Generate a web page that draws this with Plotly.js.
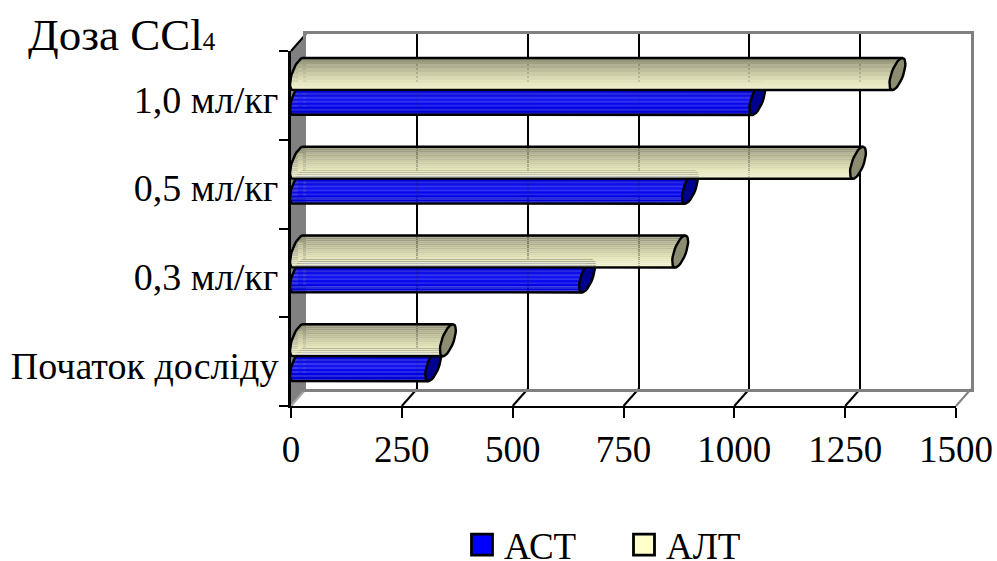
<!DOCTYPE html>
<html>
<head>
<meta charset="utf-8">
<script src="https://cdn.plot.ly/plotly-3.0.1.min.js"></script>
<style>
html,body{margin:0;padding:0;background:#fff;}
/* enlarged legend swatches with a black frame */
.legendpoints path{transform:translate(18px,0) scale(1.75);stroke:#000 !important;stroke-width:1.6px !important;}
</style>
</head>
<body>
<div id="chart" style="width:997px;height:561px;"></div>
<script>
const categories = ['Початок досліду', '0,3 мл/кг', '0,5 мл/кг', '1,0 мл/кг'];
const astValues = [305, 652, 884, 1036];
const altValues = [338, 862, 1263, 1352];
const valueTicks = [0, 250, 500, 750, 1000, 1250, 1500];
const astName = 'АСТ';
const altName = 'АЛТ';

// Oblique chart box, in page pixels
const W = 997, H = 561;
const front = {l: 291, r: 956, t: 51, b: 406};
const depth = {dx: 15, dy: 17};
const mid = {l: front.l + 7, r: front.r + 7, t: front.t - 8.5, b: front.b - 8.5};
const back = {l: front.l + depth.dx, r: front.r + depth.dx, t: front.t - depth.dy, b: front.b - depth.dy};
const kx = (front.r - front.l) / 1500;           // px per value unit
const ky = (front.b - front.t) / categories.length; // px per category
const leftPad = 30;                               // room for the rounded near end of the cylinders

const px = v => v / W;
const py = v => 1 - v / H;
const domX = b => [px(b.l), px(b.r)];
const domY = b => [py(b.b), py(b.t)];

// Cylinder cross-section
const radius = 16, skew = 5, halfW = 6.2;
const shiftAlt = 0.145, shiftAst = -0.136;
const nBands = 16;

const altStops = [[1, [140,140,114]], [0.5, [170,170,140]], [0, [200,200,165]], [-0.5, [228,228,190]], [-1, [242,242,208]]];
const astStops = [[1, [0,0,150]], [0.5, [0,0,208]], [0, [20,20,240]], [-0.5, [0,0,232]], [-1, [0,0,200]]];

function shade(stops, s) {
  for (let i = 0; i < stops.length - 1; i++) {
    const [s0, c0] = stops[i], [s1, c1] = stops[i + 1];
    if (s <= s0 && s >= s1) {
      const t = (s0 - s) / (s0 - s1);
      return c0.map((c, k) => Math.round(c + (c1[k] - c) * t));
    }
  }
  return stops[stops.length - 1][1];
}

function cylinderTraces(values, stops, capColor, shift, axisIdx, stripe) {
  const traces = [];
  const xa = 'x' + axisIdx, ya = 'y' + axisIdx;
  const yPos = categories.map((_, i) => i);
  const r = radius / ky;
  // Horizontal shading bands, following the skewed end of the cylinder
  for (let b = 0; b < nBands; b++) {
    const s0 = 1 - 2 * b / nBands, s1 = 1 - 2 * (b + 1) / nBands, s = (s0 + s1) / 2;
    const sk = skew * s;
    const hw = halfW * Math.sqrt(Math.max(0, 1 - s * s));
    let rgb = shade(stops, s);
    if (stripe && b % 2) rgb = rgb.map((c, k) => Math.min(255, c + stripe[k]));
    const alpha = (Math.abs(s) < 0.6 && b % 2) ? 0.88 : 1;
    traces.push({
      type: 'bar', orientation: 'h', xaxis: xa, yaxis: ya, showlegend: false, hoverinfo: 'skip',
      y: yPos,
      x: values.map(v => v + hw / kx),
      base: (sk - hw) / kx,
      offset: shift + s1 * r,
      width: (s0 - s1) * r * 1.04,
      marker: {color: `rgba(${rgb[0]},${rgb[1]},${rgb[2]},${alpha})`, line: {width: 0}}
    });
  }
  // Outline of the body, open at the far end
  const ox = [], oy = [];
  values.forEach((v, i) => {
    const cy = i + shift;
    ox.push(v - skew / kx); oy.push(cy - r);
    for (let a = 270; a >= 90; a -= 10) {
      const t = a * Math.PI / 180;
      ox.push((skew * Math.sin(t) + halfW * Math.cos(t)) / kx);
      oy.push(cy + r * Math.sin(t));
    }
    ox.push(v + skew / kx); oy.push(cy + r);
    ox.push(null); oy.push(null);
  });
  traces.push({type: 'scatter', mode: 'lines', xaxis: xa, yaxis: ya, x: ox, y: oy, showlegend: false,
    hoverinfo: 'skip', line: {color: '#000', width: 2.4}});
  // End caps
  const cx = [], cyy = [];
  values.forEach((v, i) => {
    const cy = i + shift;
    for (let a = 0; a <= 360; a += 10) {
      const t = a * Math.PI / 180;
      cx.push(v + (skew * Math.sin(t) + halfW * Math.cos(t)) / kx);
      cyy.push(cy + r * Math.sin(t));
    }
    cx.push(null); cyy.push(null);
  });
  traces.push({type: 'scatter', mode: 'lines', fill: 'toself', fillcolor: capColor, xaxis: xa, yaxis: ya, x: cx, y: cyy,
    showlegend: false, hoverinfo: 'skip', line: {color: '#000', width: 2.4}});
  return traces;
}

const yPos = categories.map((_, i) => i);
const coreR = 0.6 * radius / ky;
const coreBar = (name, values, color, shift) => ({
  type: 'bar', orientation: 'h', name: name, x: values, y: yPos, xaxis: 'x', yaxis: 'y',
  offset: shift - coreR, width: 2 * coreR, marker: {color: color, line: {width: 0}}, hoverinfo: 'skip'
});
const anchorTrace = n => ({type: 'scatter', mode: 'markers', x: [0], y: [0], xaxis: 'x' + n, yaxis: 'y' + n,
  marker: {opacity: 0}, showlegend: false, hoverinfo: 'skip'});

const traces = [
  coreBar(astName, astValues, '#0000ff', shiftAst),
  coreBar(altName, altValues, '#ffffcc', shiftAlt),
  anchorTrace(2),
  ...cylinderTraces(astValues, astStops, '#000090', shiftAst, 3, [40, 40, 0]),
  ...cylinderTraces(altValues, altStops, '#8c8c70', shiftAlt, 4, null),
  anchorTrace(5)
];

const hiddenX = anchor => ({domain: [px(mid.l - leftPad), px(mid.r)], range: [-leftPad / kx, 1500], visible: false, anchor: anchor, fixedrange: true});
const hiddenY = anchor => ({domain: domY(mid), range: [-0.5, 3.5], visible: false, anchor: anchor, fixedrange: true});

const font = 'Liberation Serif, Times New Roman, serif';
const line = (x0, y0, x1, y1, color, width) => ({
  type: 'line', xref: 'paper', yref: 'paper', layer: 'below',
  x0: px(x0), y0: py(y0), x1: px(x1), y1: py(y1), line: {color: color, width: width}
});

const obliques = valueTicks.slice(1).map((v, i, a) =>
  line(front.l + v * kx, front.b, back.l + v * kx, back.b, i === a.length - 1 ? '#808080' : '#000', 2));

const layout = {
  width: W, height: H, autosize: false,
  margin: {l: 0, r: 0, t: 0, b: 0, pad: 0, autoexpand: false},
  paper_bgcolor: '#fff', plot_bgcolor: 'rgba(0,0,0,0)',
  barmode: 'overlay', showlegend: true,
  font: {family: font, color: '#000', size: 37},
  legend: {orientation: 'h', x: px(464), y: py(545), xanchor: 'left', yanchor: 'middle',
    font: {family: font, size: 37, color: '#000'}, bgcolor: 'rgba(0,0,0,0)',
    entrywidth: 117, entrywidthmode: 'pixels', itemclick: false, itemdoubleclick: false},
  // Cylinder axes share one mid-depth box
  xaxis: hiddenX('y'), yaxis: hiddenY('x'),
  // Back wall with the value grid
  xaxis2: {domain: domX(back), range: [0, 1500], anchor: 'y2', tickmode: 'array', tickvals: valueTicks.slice(1, -1),
    showticklabels: false, ticks: '', showgrid: true, gridcolor: '#000', gridwidth: 2, zeroline: false,
    showline: true, linecolor: '#808080', linewidth: 3, mirror: true, fixedrange: true},
  yaxis2: {domain: domY(back), range: [-0.5, 3.5], anchor: 'x2', showticklabels: false, ticks: '', showgrid: false,
    zeroline: false, showline: true, linecolor: '#808080', linewidth: 3, mirror: true, fixedrange: true},
  xaxis3: hiddenX('y3'), yaxis3: hiddenY('x3'),
  xaxis4: hiddenX('y4'), yaxis4: hiddenY('x4'),
  // Front axes carrying the ticks and labels
  xaxis5: {domain: domX(front), range: [0, 1500], anchor: 'y5', tickmode: 'array', tickvals: valueTicks,
    ticktext: valueTicks.map(String), ticks: 'outside', ticklen: 10, tickwidth: 2, tickcolor: '#000',
    ticklabelstandoff: 0, showgrid: false, zeroline: false, showline: true, linecolor: '#000', linewidth: 2,
    tickfont: {family: font, size: 37}, fixedrange: true},
  yaxis5: {domain: domY(front), range: [-0.5, 3.5], anchor: 'x5', tickmode: 'array', tickvals: yPos, ticktext: categories,
    ticks: 'outside', ticklen: 1, tickcolor: 'rgba(0,0,0,0)', ticklabelstandoff: 1, ticklabelshift: 4,
    minor: {tickmode: 'array', tickvals: [-0.5, 0.5, 1.5, 2.5, 3.5], ticks: 'outside', ticklen: 9, tickwidth: 2, tickcolor: '#000'},
    showgrid: false, zeroline: false, showline: true, linecolor: '#000', linewidth: 3,
    tickfont: {family: font, size: 38}, fixedrange: true},
  shapes: [
    // Left wall of the box
    {type: 'path', xref: 'paper', yref: 'paper', layer: 'below',
     path: `M ${px(front.l)} ${py(front.t)} L ${px(back.l)} ${py(back.t)} L ${px(back.l)} ${py(back.b)} L ${px(front.l)} ${py(front.b)} Z`,
     fillcolor: '#808080', line: {width: 0}},
    line(front.l, front.t, back.l, back.t, '#000', 2),
    line(front.l, front.b, back.l, back.b, '#a8a8a8', 2),
    ...obliques
  ],
  annotations: [{
    xref: 'paper', yref: 'paper', x: px(26), y: py(35), xanchor: 'left', yanchor: 'middle', showarrow: false,
    text: 'Доза CCl<span style="font-size:25px">4</span>', font: {family: font, size: 45, color: '#000'}
  }]
};

Plotly.newPlot('chart', traces, layout, {displayModeBar: false, responsive: false});
</script>
</body>
</html>
